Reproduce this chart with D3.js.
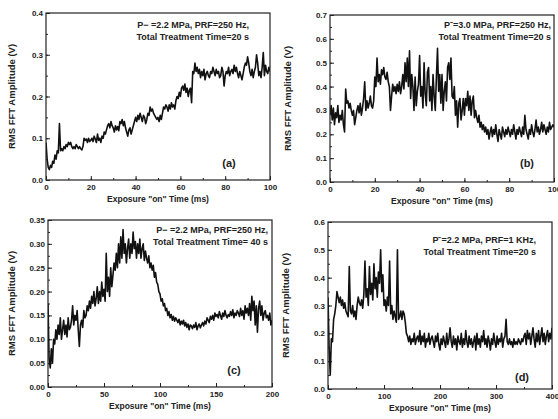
<!DOCTYPE html>
<html>
<head>
<meta charset="utf-8">
<script src="https://cdn.jsdelivr.net/npm/d3@7"></script>
<style>
  body { margin: 0; background: #fff; }
  svg { display: block; font-family: "Liberation Sans", Arial, sans-serif; font-weight: bold; }
</style>
</head>
<body>
<svg id="chart" width="558" height="419"></svg>
<script>
// sampling interval of each trace (ms)
var stepA = 0.5, stepB = 0.5, stepC = 1, stepD = 2;

// (a) P-=2.2 MPa, PRF=250 Hz, 20 s
var valuesA = [
  0.09, 0.05, 0.03, 0.025, 0.035, 0.03, 0.045, 0.04, 0.06, 0.05,
  0.07, 0.065, 0.135, 0.07, 0.075, 0.07, 0.08, 0.075, 0.085, 0.08,
  0.09, 0.085, 0.09, 0.08, 0.075, 0.08, 0.075, 0.085, 0.08, 0.075,
  0.08, 0.075, 0.072, 0.08, 0.1, 0.095, 0.098, 0.09, 0.1, 0.092,
  0.095, 0.1, 0.092, 0.105, 0.098, 0.09, 0.11, 0.095, 0.1, 0.09,
  0.105, 0.1, 0.115, 0.11, 0.12, 0.13, 0.135, 0.125, 0.14, 0.13,
  0.125, 0.115, 0.13, 0.12, 0.128, 0.118, 0.14, 0.135, 0.145, 0.13,
  0.14, 0.125, 0.115, 0.105, 0.12, 0.125, 0.11, 0.12, 0.13, 0.14,
  0.15, 0.14, 0.155, 0.145, 0.16, 0.15, 0.14, 0.155, 0.15, 0.135,
  0.145, 0.16, 0.155, 0.175, 0.165, 0.17, 0.16, 0.155, 0.15, 0.145,
  0.15, 0.14, 0.155, 0.145, 0.16, 0.175, 0.17, 0.18, 0.175, 0.165,
  0.18, 0.17, 0.185, 0.175, 0.18, 0.17, 0.19, 0.2, 0.195, 0.21,
  0.2, 0.22, 0.225, 0.215, 0.23, 0.21, 0.22, 0.2, 0.215, 0.22,
  0.185, 0.26, 0.255, 0.28, 0.26, 0.27, 0.255, 0.265, 0.245, 0.26,
  0.25, 0.265, 0.24, 0.255, 0.26, 0.25, 0.245, 0.26, 0.255, 0.27,
  0.26, 0.25, 0.265, 0.255, 0.26, 0.245, 0.25, 0.27, 0.26, 0.225,
  0.25, 0.26, 0.255, 0.27, 0.25, 0.26, 0.265, 0.255, 0.275, 0.26,
  0.27, 0.255, 0.245, 0.26, 0.25, 0.24, 0.255, 0.27, 0.28, 0.275,
  0.295, 0.28, 0.26, 0.25, 0.265, 0.245, 0.26, 0.27, 0.3, 0.28,
  0.25, 0.26, 0.245, 0.27, 0.305, 0.25, 0.275, 0.26, 0.255, 0.27,
  0.26
];

// (b) P-=3.0 MPa, PRF=250 Hz, 20 s
var valuesB = [
  0.28, 0.32, 0.26, 0.31, 0.24, 0.29, 0.27, 0.32, 0.25, 0.28,
  0.26, 0.3, 0.24, 0.21, 0.39, 0.33, 0.34, 0.31, 0.33, 0.3,
  0.28, 0.3, 0.24, 0.27, 0.3, 0.32, 0.29, 0.33, 0.28, 0.31,
  0.35, 0.42, 0.3, 0.34, 0.31, 0.33, 0.36, 0.32, 0.31, 0.34,
  0.44, 0.4, 0.52, 0.42, 0.45, 0.41, 0.47, 0.45, 0.48, 0.44,
  0.43, 0.46, 0.42, 0.4, 0.3, 0.36, 0.41, 0.38, 0.4, 0.37,
  0.41, 0.38, 0.42, 0.37, 0.4, 0.45, 0.39, 0.5, 0.42, 0.52,
  0.4, 0.55, 0.35, 0.45, 0.4, 0.3, 0.44, 0.32, 0.38, 0.41,
  0.53, 0.36, 0.4, 0.31, 0.5, 0.37, 0.32, 0.46, 0.48, 0.34,
  0.4, 0.3, 0.45, 0.36, 0.3, 0.44, 0.56, 0.38, 0.45, 0.33,
  0.45, 0.3, 0.38, 0.42, 0.34, 0.48, 0.5, 0.43, 0.52, 0.36,
  0.35, 0.4, 0.28, 0.34, 0.23, 0.33, 0.35, 0.26, 0.3, 0.35,
  0.28, 0.35, 0.32, 0.38, 0.3, 0.36, 0.28, 0.34, 0.36, 0.27,
  0.3, 0.27, 0.25, 0.28, 0.23, 0.25, 0.22, 0.24, 0.21, 0.23,
  0.2, 0.22, 0.18, 0.21, 0.23, 0.19, 0.22, 0.2, 0.24, 0.2,
  0.17, 0.22, 0.2, 0.18, 0.23, 0.21, 0.19, 0.22, 0.2, 0.23,
  0.21, 0.19, 0.22, 0.2, 0.24, 0.21, 0.18, 0.22, 0.2, 0.23,
  0.21, 0.19, 0.23, 0.2, 0.28, 0.22, 0.2, 0.18, 0.22, 0.2,
  0.24, 0.21, 0.19, 0.22, 0.26, 0.21, 0.23, 0.2, 0.22, 0.25,
  0.21, 0.24, 0.22, 0.2, 0.23, 0.21, 0.25, 0.22, 0.23, 0.24,
  0.23
];

// (c) P-=2.2 MPa, PRF=250 Hz, 40 s
var valuesC = [
  0.175, 0.06, 0.04, 0.08, 0.05, 0.1, 0.09, 0.12, 0.1, 0.13,
  0.11, 0.145, 0.1, 0.12, 0.14, 0.11, 0.13, 0.105, 0.145, 0.12,
  0.125, 0.14, 0.17, 0.13, 0.15, 0.14, 0.16, 0.12, 0.085, 0.13,
  0.14, 0.125, 0.16, 0.145, 0.15, 0.17, 0.16, 0.18, 0.165, 0.19,
  0.175, 0.2, 0.17, 0.185, 0.21, 0.175, 0.2, 0.18, 0.22, 0.19,
  0.205, 0.18, 0.28, 0.2, 0.23, 0.19, 0.25, 0.21, 0.235, 0.26,
  0.245, 0.28, 0.25, 0.3, 0.26, 0.315, 0.27, 0.33, 0.28, 0.3,
  0.26, 0.29, 0.31, 0.27, 0.3, 0.28, 0.325, 0.29, 0.305, 0.27,
  0.3, 0.28, 0.31, 0.27, 0.29, 0.3, 0.265, 0.285, 0.27, 0.26,
  0.275, 0.25, 0.26, 0.245, 0.255, 0.23, 0.24, 0.22, 0.215, 0.2,
  0.195, 0.18, 0.185, 0.17, 0.175, 0.16, 0.165, 0.15, 0.158, 0.145,
  0.152, 0.14, 0.148, 0.138, 0.145, 0.14, 0.135, 0.142, 0.13, 0.138,
  0.132, 0.14, 0.128, 0.135, 0.125, 0.132, 0.12, 0.13, 0.128, 0.122,
  0.13, 0.125, 0.135, 0.12, 0.128, 0.132, 0.124, 0.13, 0.135, 0.128,
  0.138, 0.132, 0.145, 0.14, 0.135, 0.148, 0.142, 0.15, 0.14, 0.155,
  0.148, 0.152, 0.145, 0.158, 0.15, 0.142, 0.155, 0.148, 0.16, 0.15,
  0.145, 0.152, 0.148, 0.158, 0.15, 0.162, 0.145, 0.155, 0.15, 0.16,
  0.155, 0.148, 0.165, 0.15, 0.16, 0.142, 0.17, 0.155, 0.165, 0.15,
  0.175, 0.14, 0.19, 0.16, 0.18, 0.13, 0.17, 0.115, 0.165, 0.18,
  0.15, 0.17, 0.14, 0.155, 0.16, 0.145, 0.15, 0.14, 0.155, 0.13,
  0.14
];

// (d) P-=2.2 MPa, PRF=1 KHz, 20 s
var valuesD = [
  0.33, 0.15, 0.05, 0.18, 0.17, 0.25, 0.27, 0.3, 0.35, 0.33,
  0.31, 0.33, 0.3, 0.32, 0.29, 0.31, 0.28, 0.27, 0.26, 0.44,
  0.28, 0.27, 0.3, 0.26, 0.28, 0.25, 0.3, 0.33, 0.31, 0.3,
  0.32, 0.29, 0.34, 0.46, 0.33, 0.36, 0.3, 0.44, 0.34, 0.38,
  0.32, 0.45, 0.36, 0.4, 0.33, 0.42, 0.38, 0.5, 0.35, 0.41,
  0.3, 0.32, 0.28, 0.33, 0.3, 0.46, 0.27, 0.3, 0.25, 0.28,
  0.26, 0.24, 0.5, 0.25, 0.26, 0.28, 0.25, 0.28, 0.27, 0.24,
  0.2, 0.19, 0.17, 0.19, 0.16, 0.18, 0.17, 0.2, 0.16, 0.18,
  0.19, 0.17, 0.21, 0.16, 0.19, 0.17, 0.2, 0.15, 0.18, 0.17,
  0.2, 0.16, 0.18, 0.19, 0.17, 0.15, 0.19, 0.17, 0.2, 0.16,
  0.14, 0.18, 0.16, 0.19, 0.17, 0.15, 0.2, 0.16, 0.18, 0.22,
  0.17, 0.15, 0.19, 0.16, 0.18, 0.14, 0.19, 0.17, 0.16, 0.2,
  0.15, 0.18, 0.16, 0.21, 0.17, 0.15, 0.19, 0.16, 0.18, 0.15,
  0.17, 0.19, 0.14, 0.2, 0.16, 0.18, 0.15, 0.19, 0.17, 0.21,
  0.16, 0.18, 0.15, 0.19, 0.17, 0.14, 0.18, 0.16, 0.2, 0.17,
  0.15, 0.19, 0.16, 0.18, 0.17, 0.2, 0.15, 0.18, 0.19, 0.25,
  0.17, 0.16, 0.18, 0.16, 0.17, 0.15, 0.18, 0.16, 0.17, 0.16,
  0.18, 0.17, 0.16, 0.18, 0.17, 0.19, 0.2, 0.16, 0.21, 0.18,
  0.2, 0.16, 0.19, 0.22, 0.18, 0.15, 0.2, 0.17, 0.21, 0.16,
  0.19, 0.22, 0.17, 0.2, 0.16, 0.19, 0.21, 0.17, 0.2, 0.18,
  0.22
];

// tick labels
var xTicksA = [0, 20, 40, 60, 80, 100];
var yTicksA = [0.0, 0.1, 0.2, 0.3, 0.4];
var xTicksB = [0, 20, 40, 60, 80, 100];
var yTicksB = [0.0, 0.1, 0.2, 0.3, 0.4, 0.5, 0.6, 0.7];
var xTicksC = [0, 50, 100, 150, 200];
var yTicksC = [0.00, 0.05, 0.10, 0.15, 0.20, 0.25, 0.30, 0.35];
var xTicksD = [0, 100, 200, 300, 400];
var yTicksD = [0.0, 0.1, 0.2, 0.3, 0.4, 0.5, 0.6];

var notesA = ["P\u2212 =2.2 MPa, PRF=250 Hz,", "Total Treatment Time=20 s"];
var notesB = ["P\u207B=3.0 MPa, PRF=250 Hz,", "Total Treatment Time=20 s"];
var notesC = ["P\u2212 =2.2 MPa, PRF=250 Hz,", "Total Treatment Time= 40 s"];
var notesD = ["P\u207B=2.2 MPa, PRF=1 KHz,", "Total Treatment Time=20 s"];

var svg = d3.select("#chart");
var w = 224, h = 167;

var panels = [
  { id: "a", left: 46, top: 13, values: valuesA, step: stepA, xTicks: xTicksA, yTicks: yTicksA,
    xMinor: 10, yMinor: 0.05, yFmt: ".1f", notes: notesA, noteX: 249, noteY: 28, labX: 229, labY: 167, ytx: 12 },
  { id: "b", left: 330, top: 15, values: valuesB, step: stepB, xTicks: xTicksB, yTicks: yTicksB,
    xMinor: 10, yMinor: 0.05, yFmt: ".1f", notes: notesB, noteX: 551, noteY: 28, labX: 527, labY: 167, ytx: 288 },
  { id: "c", left: 48, top: 220, values: valuesC, step: stepC, xTicks: xTicksC, yTicks: yTicksC,
    xMinor: 25, yMinor: 0.025, yFmt: ".2f", notes: notesC, noteX: 268, noteY: 233, labX: 234, labY: 374, ytx: 12 },
  { id: "d", left: 328, top: 222, values: valuesD, step: stepD, xTicks: xTicksD, yTicks: yTicksD,
    xMinor: 50, yMinor: 0.05, yFmt: ".1f", notes: notesD, noteX: 536, noteY: 243, labX: 522, labY: 381, ytx: 286 }
];

panels.forEach(drawPanel);

function drawPanel(p) {
  var data = p.values.map(function(v, i) { return { t: i * p.step, v: v }; });
  var xMax = p.xTicks[p.xTicks.length - 1], yMax = p.yTicks[p.yTicks.length - 1];

  var x = d3.scaleLinear().domain([0, xMax]).range([0, w]);
  var y = d3.scaleLinear().domain([0, yMax]).range([h, 0]);

  var g = svg.append("g").attr("transform", "translate(" + p.left + "," + p.top + ")");

  g.append("clipPath").attr("id", "clip-" + p.id)
    .append("rect").attr("width", w).attr("height", h);

  // minor ticks
  var xm = d3.range(0, xMax + 1e-9, p.xMinor);
  var ym = d3.range(0, yMax + 1e-9, p.yMinor);
  g.append("g").attr("transform", "translate(0," + h + ")")
    .call(d3.axisBottom(x).tickValues(xm).tickSize(-2).tickFormat(""))
    .call(clean);
  g.append("g")
    .call(d3.axisLeft(y).tickValues(ym).tickSize(-2).tickFormat(""))
    .call(clean);

  // major ticks
  g.append("g").attr("transform", "translate(0," + h + ")")
    .call(d3.axisBottom(x).tickValues(p.xTicks).tickSize(-4).tickPadding(4).tickFormat(d3.format("d")))
    .call(clean);
  g.append("g")
    .call(d3.axisLeft(y).tickValues(p.yTicks).tickSize(-4).tickPadding(3).tickFormat(d3.format(p.yFmt)))
    .call(clean);

  // trace
  g.append("path")
    .datum(data)
    .attr("clip-path", "url(#clip-" + p.id + ")")
    .attr("fill", "none")
    .attr("stroke", "#111")
    .attr("stroke-width", 1.6)
    .attr("stroke-linejoin", "round")
    .attr("d", d3.line().x(function(d) { return x(d.t); }).y(function(d) { return y(d.v); }));

  // frame
  g.append("rect").attr("width", w).attr("height", h)
    .attr("fill", "none").attr("stroke", "#222").attr("stroke-width", 1.2);

  // axis titles
  g.append("text")
    .attr("x", w / 2).attr("y", h + 22)
    .attr("text-anchor", "middle").attr("font-size", 8.5).attr("fill", "#222")
    .text("Exposure \"on\" Time (ms)");
  svg.append("text")
    .attr("transform", "translate(" + (p.ytx + 3) + "," + (p.top + h / 2) + ") rotate(-90)")
    .attr("text-anchor", "middle").attr("font-size", 9.5).attr("fill", "#222")
    .text("RMS FFT Amplitude (V)");

  // notes
  svg.append("text")
    .attr("x", p.noteX).attr("y", p.noteY)
    .attr("text-anchor", "end").attr("font-size", 9).attr("fill", "#222")
    .selectAll("tspan").data(p.notes).enter().append("tspan")
    .attr("x", p.noteX).attr("dy", function(d, i) { return i ? 12 : 0; })
    .text(function(d) { return d; });

  svg.append("text")
    .attr("x", p.labX).attr("y", p.labY)
    .attr("text-anchor", "middle").attr("font-size", 11).attr("fill", "#222")
    .text("(" + p.id + ")");
}

function clean(sel) {
  sel.select(".domain").remove();
  sel.selectAll("line").attr("stroke", "#222");
  sel.selectAll("text").attr("font-size", 8).attr("fill", "#222")
    .attr("font-family", "Liberation Sans, Arial, sans-serif").attr("font-weight", "bold");
}
</script>
</body>
</html>
